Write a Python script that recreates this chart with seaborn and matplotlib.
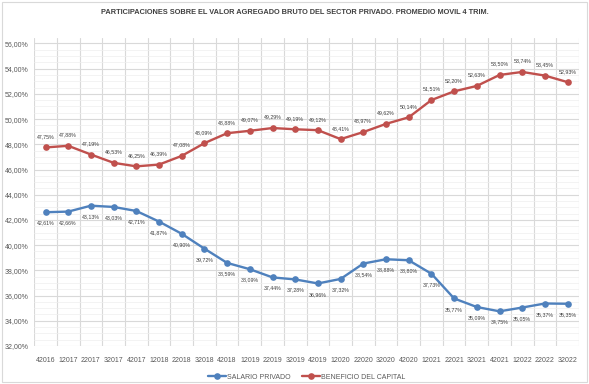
import matplotlib
matplotlib.use("Agg")
import matplotlib.pyplot as plt
import seaborn as sns
import pandas as pd
from matplotlib.ticker import FuncFormatter, MultipleLocator

# Data
periods = ['42016', '12017', '22017', '32017', '42017', '12018', '22018', '32018',
           '42018', '12019', '22019', '32019', '42019', '12020', '22020', '32020',
           '42020', '12021', '22021', '32021', '42021', '12022', '22022', '32022']
salario = [42.61, 42.66, 43.13, 43.03, 42.71, 41.87, 40.90, 39.72,
           38.59, 38.09, 37.44, 37.28, 36.96, 37.32, 38.54, 38.88,
           38.80, 37.73, 35.77, 35.09, 34.75, 35.05, 35.37, 35.35]
beneficio = [47.75, 47.88, 47.19, 46.53, 46.25, 46.39, 47.08, 48.09,
             48.88, 49.07, 49.29, 49.19, 49.12, 48.41, 48.97, 49.62,
             50.14, 51.51, 52.20, 52.63, 53.50, 53.74, 53.45, 52.93]
series_names = ['SALARIO PRIVADO', 'BENEFICIO DEL CAPITAL']
colors = ['#4F81BD', '#C0504D']

df = pd.DataFrame({
    'pos': list(range(len(periods))) * 2,
    'valor': salario + beneficio,
    'serie': [series_names[0]] * len(periods) + [series_names[1]] * len(periods),
})

sns.set_style('white')
plt.rcParams['font.family'] = ['Liberation Sans', 'DejaVu Sans']

fig = plt.figure(figsize=(5.89, 3.84), dpi=100)
ax = fig.add_axes([0.058, 0.099, 0.925, 0.801])

sns.lineplot(data=df, x='pos', y='valor', hue='serie', palette=colors,
             marker='o', markersize=4.8, markeredgewidth=0, linewidth=1.7,
             ax=ax, legend=True)

def fmt(v):
    return f'{v:.2f}'.replace('.', ',') + '%'

for i, v in enumerate(beneficio):
    ax.annotate(fmt(v), (i, v), xytext=(0, 6), textcoords='offset points',
                ha='center', va='bottom', fontsize=3.8, color='#404040')
for i, v in enumerate(salario):
    ax.annotate(fmt(v), (i, v), xytext=(0, -6), textcoords='offset points',
                ha='center', va='top', fontsize=3.8, color='#404040')

ax.set_xlim(-0.5, len(periods) - 0.5)
ax.set_ylim(32, 56.4)
ax.yaxis.set_major_locator(MultipleLocator(2))
ax.yaxis.set_minor_locator(MultipleLocator(0.5))
ax.yaxis.set_major_formatter(FuncFormatter(lambda v, p: f'{v:.2f}'.replace('.', ',') + '%'))
ax.set_xticks(range(len(periods)))
ax.set_xticklabels(periods)
ax.set_xticks([i + 0.5 for i in range(-1, len(periods))], minor=True)
ax.tick_params(axis='both', which='both', length=0, labelsize=5, colors='#595959', pad=8)
ax.tick_params(axis='y', pad=4)

ax.grid(False)
ax.grid(True, which='major', axis='y', color='#D9D9D9', linewidth=0.8)
ax.grid(True, which='minor', axis='y', color='#EFEFEF', linewidth=0.5)
ax.grid(True, which='minor', axis='x', color='#D9D9D9', linewidth=0.8)
ax.set_axisbelow(True)
for s in ax.spines.values():
    s.set_visible(False)
ax.set_xlabel('')
ax.set_ylabel('')

ax.legend(loc='upper center', bbox_to_anchor=(0.5, -0.07), ncol=2, frameon=False,
          fontsize=5, labelcolor='#595959', handlelength=2.6, columnspacing=1.6,
          handletextpad=0.2)

fig.text(0.5, 0.968, 'PARTICIPACIONES SOBRE EL VALOR AGREGADO BRUTO DEL SECTOR PRIVADO. PROMEDIO MOVIL 4 TRIM.',
         ha='center', va='center', fontsize=5.3, color='#404040', fontweight='semibold')

fig.patches.append(plt.Rectangle((0.003, 0.005), 0.994, 0.99, transform=fig.transFigure,
                                 fill=False, edgecolor='#D9D9D9', linewidth=0.8))

fig.savefig('out.png', dpi=100)
